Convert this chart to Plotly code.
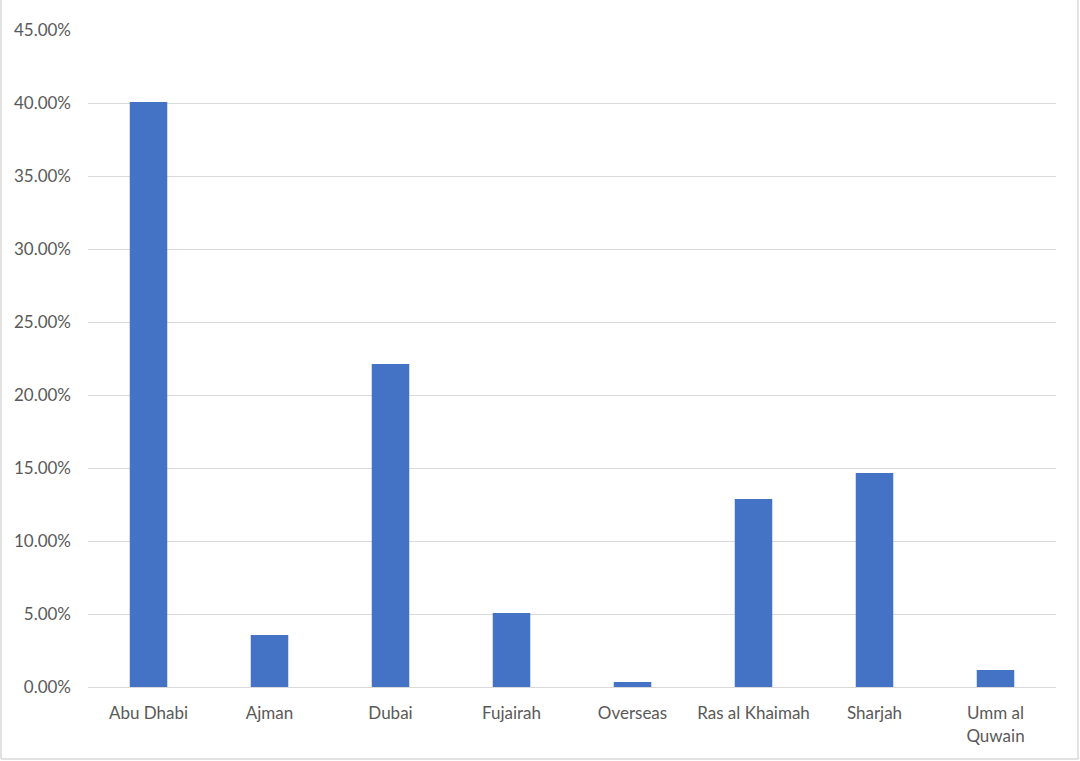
import plotly.graph_objects as go

emirates = ['Abu Dhabi', 'Ajman', 'Dubai', 'Fujairah', 'Overseas',
            'Ras al Khaimah', 'Sharjah', 'Umm al<br>Quwain']
shares = [0.4007, 0.0356, 0.2212, 0.0507, 0.0034, 0.1288, 0.1466, 0.0116]
y_ticks = [0, 0.05, 0.10, 0.15, 0.20, 0.25, 0.30, 0.35, 0.40, 0.45]

fig = go.Figure()
fig.add_trace(go.Bar(
    x=emirates,
    y=shares,
    marker=dict(color='#4472c4', line=dict(width=0)),
    hovertemplate='%{x}: %{y:.2%}<extra></extra>',
))

# faint frame around the chart, like the spreadsheet export
pl, pr, pb = -87 / 968, 990 / 968, -72 / 657
for x0, y0, x1, y1 in [(pl, pb, pl, 1.2), (pr, pb, pr, 1.2), (pl, pb, pr, pb)]:
    fig.add_shape(type='line', xref='paper', yref='paper',
                  x0=x0, y0=y0, x1=x1, y1=y1,
                  line=dict(color='#d9d9d9', width=1.5))

fig.update_layout(
    width=1080, height=761,
    margin=dict(l=88, r=24, t=30, b=74),
    paper_bgcolor='white', plot_bgcolor='white',
    font=dict(family='Lato, Open Sans, sans-serif', size=17, color='#595959'),
    bargap=0.69,
    showlegend=False,
    xaxis=dict(showline=True, linecolor='#d9d9d9', linewidth=1,
               ticks='', tickfont=dict(size=17), ticklabelstandoff=11),
    yaxis=dict(range=[0, 0.45], tickvals=y_ticks, tickformat='.2%',
               showgrid=True, gridcolor='#d9d9d9', gridwidth=1,
               zeroline=False, ticks='', ticklabelstandoff=16),
)

fig.write_html('out.html', config={'displayModeBar': False},
               post_script="document.body.style.margin='0px';")
